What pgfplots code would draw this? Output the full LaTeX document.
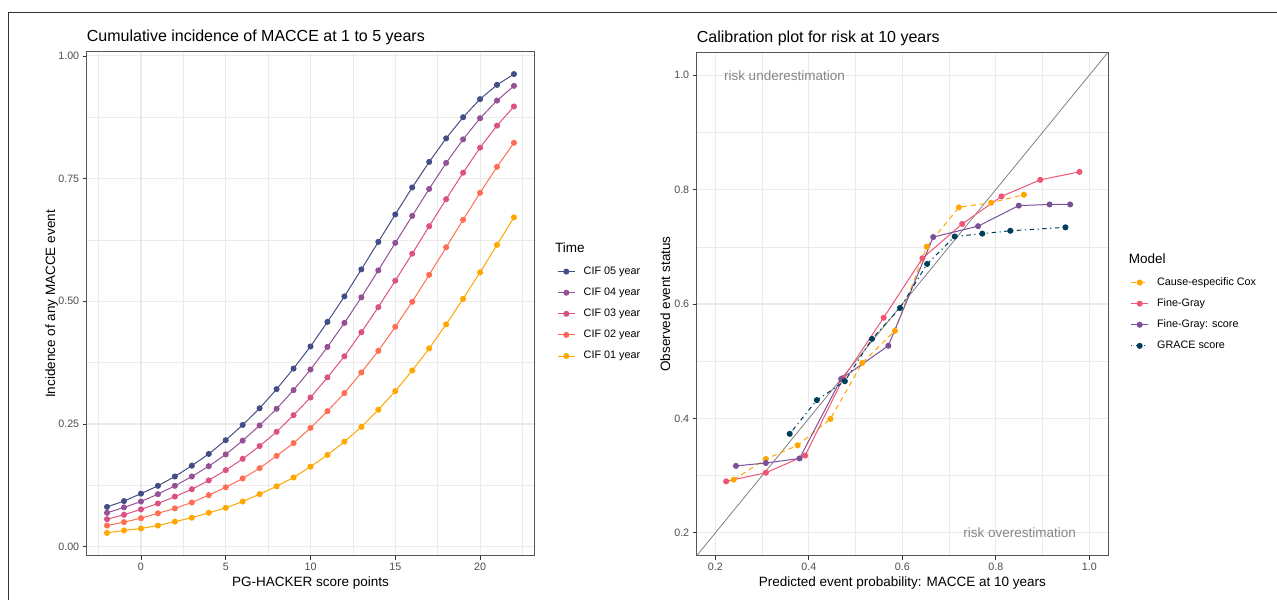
\documentclass[border=0pt]{standalone}
\usepackage{fontspec}
\setmainfont{Liberation Sans}
\usepackage{pgfplots}
\usepackage{pgfplotstable}
\pgfplotsset{compat=1.18}

\definecolor{cfive}{HTML}{444E86}
\definecolor{cfour}{HTML}{955196}
\definecolor{cthree}{HTML}{DD5182}
\definecolor{ctwo}{HTML}{FF6E54}
\definecolor{cone}{HTML}{FFA600}
\definecolor{mcox}{HTML}{FFA600}
\definecolor{mfg}{HTML}{EF5675}
\definecolor{mfgs}{HTML}{7A5195}
\definecolor{mgrace}{HTML}{003F5C}
\definecolor{gggrid}{HTML}{EBEBEB}
\definecolor{ggborder}{HTML}{555555}
\definecolor{ggtext}{HTML}{4D4D4D}
\definecolor{ggannot}{HTML}{858585}

\newcommand{\titlesz}{\fontsize{16bp}{19bp}\selectfont}
\newcommand{\labsz}{\fontsize{13.5bp}{16bp}\selectfont}
\newcommand{\ticksz}{\fontsize{10.7bp}{12.5bp}\selectfont}
\newcommand{\legsz}{\fontsize{10.8bp}{12.5bp}\selectfont}

% cumulative incidence by score point
\pgfplotstableread{
u   c5    c4    c3    c2    c1
-2  0.081 0.069 0.056 0.043 0.028
-1  0.093 0.080 0.065 0.050 0.033
0   0.108 0.092 0.076 0.058 0.037
1   0.124 0.107 0.088 0.068 0.043
2   0.143 0.124 0.102 0.078 0.051
3   0.165 0.143 0.117 0.090 0.059
4   0.189 0.164 0.135 0.105 0.069
5   0.217 0.188 0.156 0.121 0.079
6   0.248 0.216 0.179 0.139 0.092
7   0.282 0.247 0.205 0.160 0.107
8   0.321 0.281 0.234 0.185 0.123
9   0.363 0.319 0.268 0.211 0.141
10  0.408 0.361 0.304 0.242 0.163
11  0.458 0.407 0.345 0.276 0.187
12  0.510 0.456 0.388 0.313 0.214
13  0.565 0.508 0.437 0.355 0.244
14  0.621 0.563 0.488 0.399 0.279
15  0.677 0.619 0.542 0.448 0.317
16  0.732 0.674 0.597 0.499 0.359
17  0.784 0.729 0.653 0.554 0.404
18  0.832 0.782 0.708 0.610 0.453
19  0.875 0.830 0.762 0.666 0.505
20  0.912 0.873 0.813 0.721 0.559
21  0.941 0.909 0.858 0.774 0.615
22  0.963 0.939 0.897 0.823 0.671
}\cifdata

\pgfplotsset{
  ggpanel/.style={
    scale only axis,
    axis line style={draw=ggborder, line width=1bp},
    tick pos=left,
    tick align=outside,
    major tick length=4bp,
    minor tick length=0pt,
    tick style={draw=black!80, line width=0.8bp},
    grid=both,
    major grid style={draw=gggrid, line width=1.1bp},
    minor grid style={draw=gggrid, line width=0.55bp},
    tick label style={font=\ticksz, text=ggtext},
    /pgf/number format/assume math mode=true,
    every axis plot/.append style={line width=1bp, mark size=2.5bp},
    legend cell align=left,
  },
  gglegend/.style={
    draw=none, fill=none, inner sep=0pt, outer sep=0pt,
    anchor=west, font=\legsz,
    row sep=10.9bp, column sep=8.4bp,
    nodes={inner sep=0pt, text height=8bp, text depth=2.2bp, anchor=west},
  },
}

\begin{document}
\begin{tikzpicture}
\useasboundingbox (0,0) rectangle (1277bp,600bp);
\draw[draw=black!80, line width=0.9bp] (8.5bp,0bp) -- (8.5bp,587.5bp) -- (1277bp,587.5bp);

% left panel
\begin{axis}[ggpanel,
  at={(86.7bp,44bp)}, anchor=south west,
  width=447.6bp, height=504bp,
  xmin=-3.2, xmax=23.2, ymin=-0.019, ymax=1.008,
  xtick={0,5,...,20},
  minor xtick={-2.5,2.5,7.5,12.5,17.5,22.5},
  ytick={0,0.25,0.5,0.75,1},
  minor ytick={0.125,0.375,0.625,0.875},
  yticklabel style={/pgf/number format/.cd, fixed, fixed zerofill, precision=2},
  legend style={gglegend, at={(1.0514,0.4805)}},
]
\addplot[cfive, mark=*] table[x=u, y=c5] {\cifdata};
\addlegendentry{CIF 05 year}
\addplot[cfour, mark=*] table[x=u, y=c4] {\cifdata};
\addlegendentry{CIF 04 year}
\addplot[cthree, mark=*] table[x=u, y=c3] {\cifdata};
\addlegendentry{CIF 03 year}
\addplot[ctwo, mark=*] table[x=u, y=c2] {\cifdata};
\addlegendentry{CIF 02 year}
\addplot[cone, mark=*] table[x=u, y=c1] {\cifdata};
\addlegendentry{CIF 01 year}
\end{axis}

% right panel
\begin{axis}[ggpanel,
  at={(696.7bp,44.3bp)}, anchor=south west,
  width=411.3bp, height=503.4bp,
  xmin=0.16, xmax=1.04, ymin=0.16, ymax=1.04,
  xtick={0.2,0.4,...,1.0},
  ytick={0.2,0.4,...,1.0},
  minor xtick={0.3,0.5,0.7,0.9},
  minor ytick={0.3,0.5,0.7,0.9},
  xticklabel style={/pgf/number format/.cd, fixed, fixed zerofill, precision=1},
  yticklabel style={/pgf/number format/.cd, fixed, fixed zerofill, precision=1},
  legend style={gglegend, at={(1.0552,0.4797)}},
]
\addplot[draw=black!50, line width=0.8bp, no marks, forget plot] coordinates {(0.16,0.16) (1.04,1.04)};
\addplot[mcox, mark=*, dash pattern=on 5bp off 4bp, mark options={solid}] coordinates {
  (0.239,0.293) (0.308,0.329) (0.376,0.353) (0.446,0.399) (0.514,0.497)
  (0.584,0.553) (0.652,0.700) (0.721,0.769) (0.790,0.777) (0.860,0.791)};
\addlegendentry{Cause-especific Cox}
\addplot[mfg, mark=*] coordinates {
  (0.223,0.290) (0.308,0.305) (0.392,0.335) (0.474,0.471) (0.560,0.576)
  (0.643,0.680) (0.728,0.740) (0.812,0.788) (0.895,0.817) (0.979,0.831)};
\addlegendentry{Fine-Gray}
\addplot[mfgs, mark=*] coordinates {
  (0.244,0.317) (0.308,0.322) (0.380,0.330) (0.469,0.469) (0.570,0.527)
  (0.666,0.717) (0.762,0.736) (0.849,0.772) (0.915,0.774) (0.959,0.774)};
\addlegendentry{Fine-Gray: score}
\addplot[mgrace, mark=*, dash pattern=on 1.2bp off 3.5bp on 4.5bp off 3.5bp, mark options={solid}] coordinates {
  (0.359,0.373) (0.417,0.432) (0.477,0.465) (0.535,0.539) (0.595,0.593)
  (0.653,0.670) (0.712,0.718) (0.771,0.723) (0.831,0.728) (0.949,0.734)};
\addlegendentry{GRACE score}
\node[anchor=base west, text=ggannot, font=\labsz, inner sep=0pt] at (axis cs:0.218,0.990) {risk underestimation};
\node[anchor=base east, text=ggannot, font=\labsz, inner sep=0pt] at (axis cs:0.972,0.192) {risk overestimation};
\end{axis}

% titles and axis labels
\node[anchor=base west, inner sep=0pt, font=\titlesz] at (86.7bp,558bp) {Cumulative incidence of MACCE at 1 to 5 years};
\node[anchor=base west, inner sep=0pt, font=\titlesz] at (696.7bp,557.3bp) {Calibration plot for risk at 10 years};
\node[anchor=base, inner sep=0pt, font=\labsz] at (310.5bp,14bp) {PG-HACKER score points};
\node[anchor=base, inner sep=0pt, font=\labsz] at (902.4bp,14bp) {Predicted event probability: MACCE at 10 years};
\node[anchor=base, rotate=90, inner sep=0pt, font=\labsz] at (55bp,296bp) {Incidence of any MACCE event};
\node[anchor=base, rotate=90, inner sep=0pt, font=\labsz] at (670bp,296bp) {Observed event status};
\node[anchor=base west, inner sep=0pt, font=\labsz] at (555bp,347.3bp) {Time};
\node[anchor=base west, inner sep=0pt, font=\labsz] at (1128.7bp,336.5bp) {Model};
\end{tikzpicture}
\end{document}
